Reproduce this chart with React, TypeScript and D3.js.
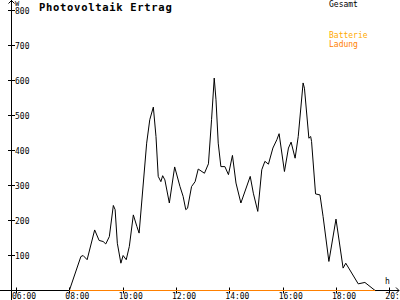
import React from "react";
import * as d3 from "d3";

const times: string[] = [
  "08:00", "08:26", "08:31", "08:40", "08:57", "09:07", "09:16", "09:22", "09:30", "09:39",
  "09:43", "09:48", "09:56", "10:01", "10:08", "10:15", "10:24", "10:32", "10:37", "10:54",
  "11:01", "11:09", "11:15", "11:20", "11:26", "11:30", "11:35", "11:45", "11:57", "12:09",
  "12:16", "12:22", "12:26", "12:35", "12:43", "12:50", "13:04", "13:13", "13:20", "13:26",
  "13:30", "13:35", "13:41", "13:50", "13:58", "14:07", "14:15", "14:26", "14:47", "14:54",
  "15:04", "15:13", "15:20", "15:28", "15:38", "15:47", "15:52", "16:04", "16:13", "16:19",
  "16:28", "16:35", "16:46", "16:49", "16:59", "17:03", "17:05", "17:14", "17:24", "17:31",
  "17:44", "18:00", "18:16", "18:22", "18:50", "19:05", "19:28",
];
const gesamt: number[] = [
  0, 97, 100, 88, 173, 143, 140, 133, 154, 243,
  231, 135, 78, 100, 88, 126, 216, 183, 164, 421,
  488, 524, 440, 326, 311, 328, 316, 250, 353, 297,
  269, 231, 235, 297, 311, 347, 335, 362, 488, 607,
  545, 421, 354, 354, 331, 386, 307, 250, 326, 278,
  226, 345, 369, 361, 407, 431, 448, 340, 407, 424,
  378, 440, 593, 578, 435, 440, 426, 276, 273, 211,
  83, 204, 64, 78, 19, 23, 0,
];
const ladungTimes: string[] = ["08:00", "19:28"];
const ladung: number[] = [0, 0];

const xTicks: number[] = [6, 8, 10, 12, 14, 16, 18, 20];
const yTicks: number[] = [100, 200, 300, 400, 500, 600, 700, 800];
const title = "Photovoltaik Ertrag";
const legendLabels: string[] = ["Gesamt", "Batterie", "Ladung"];
const legendColors: string[] = ["#000000", "#ffaa00", "#ff8000"];

const toH = (s: string) => {
  const [h, m] = s.split(":").map(Number);
  return h + m / 60;
};
const fmt = (h: number) => `${String(h).padStart(2, "0")}:00`;

export default function App() {
  const W = 400, H = 300;
  const x = d3.scaleLinear().domain([6, 20]).range([16, 389.33]);
  const y = d3.scaleLinear().domain([0, 800]).range([290.5, 10.5]);
  const axX = 11.5;
  const axY = y(0);
  const font = "'DejaVu Sans Mono', monospace";

  const line = d3
    .line<[number, number]>()
    .x((d) => x(d[0]))
    .y((d) => y(d[1]));
  const gPath = line(times.map((t, i) => [toH(t), gesamt[i]]))!;
  const lPath = line(ladungTimes.map((t, i) => [toH(t), ladung[i]]))!;

  return (
    <svg
      width={W}
      height={H}
      style={{ position: "absolute", left: 0, top: 0, background: "#fff" }}
    >
      <rect width={W} height={H} fill="#fff" />
      {/* axes */}
      <line x1={axX} x2={axX} y1={0} y2={300} stroke="#000" />
      <line x1={0} x2={399} y1={axY} y2={axY} stroke="#000" />
      <path d={`M${axX - 3},3.5 L${axX},0.5 L${axX + 3},3.5`} fill="none" stroke="#000" />
      <path d={`M396,${axY - 3} L399,${axY} L396,${axY + 3}`} fill="none" stroke="#000" />
      <text x={15} y={6} fontFamily={font} fontSize={7} fill="#000">W</text>
      <text x={385} y={284} fontFamily={font} fontSize={8} fill="#000">h</text>
      {yTicks.map((v) => (
        <g key={v}>
          <line x1={8} x2={15} y1={y(v)} y2={y(v)} stroke="#000" />
          <text x={15} y={y(v) + 3} fontFamily={font} fontSize={8} fill="#000">
            {v}
          </text>
        </g>
      ))}
      {xTicks.map((h) => (
        <g key={h}>
          <line x1={Math.round(x(h)) + 0.5} x2={Math.round(x(h)) + 0.5} y1={axY - 3} y2={axY + 3} stroke="#000" />
          <text x={x(h) - 4} y={298.5} fontFamily={font} fontSize={8} fill="#000">
            {fmt(h)}
          </text>
        </g>
      ))}
      {/* series */}
      <path d={gPath} fill="none" stroke="#000" strokeWidth={1} />
      <path d={lPath} fill="none" stroke={legendColors[2]} strokeWidth={1.2} />
      {/* title */}
      <text
        x={39}
        y={10.5}
        fontFamily={font}
        fontSize={10.5}
        fontWeight="bold"
        letterSpacing={0.7}
        fill="#000"
      >
        {title}
      </text>
      {/* legend */}
      <text x={329} y={7} fontFamily={font} fontSize={8} fill={legendColors[0]}>
        {legendLabels[0]}
      </text>
      <text x={329} y={38} fontFamily={font} fontSize={8} fill={legendColors[1]}>
        {legendLabels[1]}
      </text>
      <text x={329} y={46.5} fontFamily={font} fontSize={8} fill={legendColors[2]}>
        {legendLabels[2]}
      </text>
    </svg>
  );
}
